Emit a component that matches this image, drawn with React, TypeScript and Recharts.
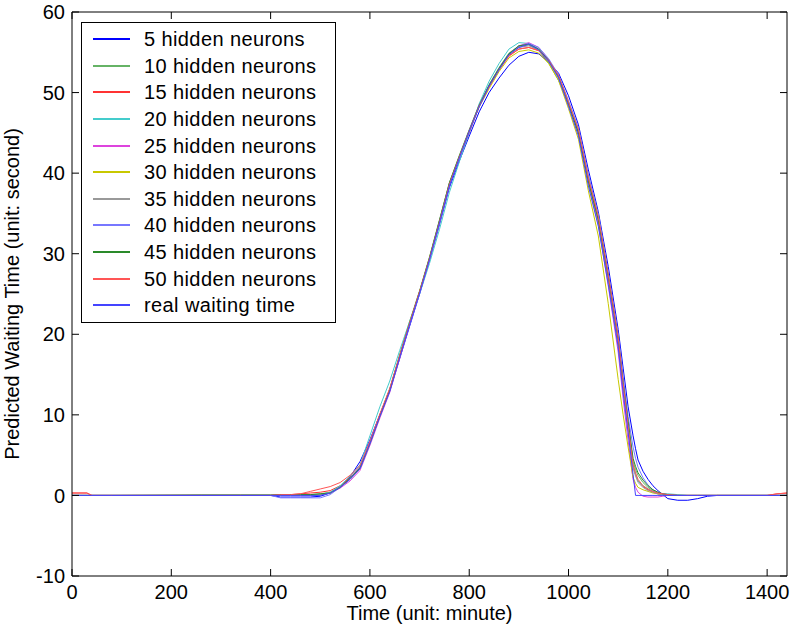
import { LineChart, Line, XAxis, YAxis, Legend } from "recharts";

// minutes of the day (denser where the curves move)
const times = [
  0, 30, 40, 80, 260, 340, 400, 420, 440, 460,
  480, 500, 520, 540, 560, 580, 600, 620, 640, 660,
  680, 700, 720, 740, 760, 780, 800, 820, 840, 860,
  880, 900, 920, 940, 960, 980, 1000, 1020, 1040, 1060,
  1080, 1100, 1110, 1120, 1130, 1135, 1140, 1150, 1160, 1170,
  1180, 1190, 1200, 1220, 1240, 1260, 1280, 1300, 1400, 1420, 1440,
];

const n5 = [
  0, 0, 0, 0, 0, 0, 0, -0.2, -0.2, -0.2,
  -0.2, -0.1, 0.3, 1.1, 2.3, 4.2, 6.9, 10.0, 13.0, 17.0,
  21.0, 25.0, 29.2, 33.6, 38.2, 41.5, 44.6, 47.6, 50.0, 51.8,
  53.4, 54.5, 55.0, 54.8, 53.8, 52.4, 49.6, 46.0, 40.4, 35.2,
  28.4, 20.6, 15.8, 11.0, 7.4, 5.8, 4.4, 3.0, 2.0, 1.2,
  0.6, 0.1, -0.4, -0.6, -0.6, -0.4, -0.1, 0, 0, 0, 0,
];
const n10 = [
  0, 0, 0, 0, 0.1, 0.1, 0.1, 0.1, 0.1, 0.1,
  0.1, 0.2, 0.4, 1.1, 2.1, 3.4, 6.6, 10.0, 13.2, 17.5,
  21.6, 25.4, 29.6, 34.2, 38.8, 42.2, 45.4, 48.5, 51.0, 53.1,
  54.9, 55.8, 55.9, 55.2, 53.7, 51.5, 48.6, 45.3, 39.4, 34.6,
  27.2, 19.0, 13.8, 8.9, 4.2, 3.2, 2.5, 1.6, 1.0, 0.6,
  0.3, 0.2, 0.1, 0, 0, 0, 0, 0, 0, 0, 0,
];
const n15 = [
  0.3, 0.3, 0, 0, 0, 0, 0, 0.1, 0.1, 0.2,
  0.3, 0.4, 0.6, 1.2, 2.2, 3.5, 6.5, 9.8, 13.0, 17.2,
  21.3, 25.2, 29.3, 33.9, 38.5, 41.9, 45.0, 48.3, 50.7, 52.9,
  54.6, 55.4, 55.6, 55.2, 53.9, 51.9, 48.6, 45.2, 39.2, 34.4,
  27.0, 19.2, 13.6, 8.4, 3.6, 2.6, 1.8, 1.1, 0.7, 0.4,
  0.2, 0.1, 0, 0, 0, 0, 0, 0, 0, 0.2, 0.3,
];
const n20 = [
  0, 0, 0, 0, 0, 0, 0, 0, 0, 0,
  0, 0.1, 0.4, 1.2, 2.4, 3.8, 7.4, 11.0, 14.2, 18.0,
  21.6, 25.0, 28.8, 33.0, 37.6, 41.4, 45.0, 48.6, 51.4, 53.6,
  55.4, 56.2, 56.1, 55.4, 54.0, 52.0, 48.8, 45.4, 39.6, 34.8,
  27.4, 19.6, 14.2, 9.0, 3.8, 2.6, 1.8, 1.2, 0.8, 0.5,
  0.3, 0.2, 0.2, 0.1, 0, 0, 0, 0, 0, 0, 0,
];
const n25 = [
  0, 0, 0, 0, 0, 0, 0, 0, 0.1, 0.1,
  0.1, 0.1, 0.3, 0.9, 1.8, 3.1, 6.2, 9.6, 12.8, 17.0,
  21.2, 25.2, 29.4, 34.0, 38.7, 42.0, 45.3, 48.4, 50.9, 53.0,
  54.8, 55.8, 56.2, 55.6, 54.1, 51.9, 48.4, 44.8, 38.8, 33.6,
  26.0, 17.8, 12.0, 6.8, 2.0, 1.0, 0.4, -0.1, -0.2, -0.2,
  -0.2, -0.1, 0, 0, 0, 0, 0, 0, 0, 0, 0,
];
const n30 = [
  0, 0, 0, 0, 0, 0, 0, 0, 0, 0,
  0, 0.1, 0.3, 1.0, 2.1, 3.4, 6.5, 9.9, 13.1, 17.3,
  21.4, 25.3, 29.5, 34.0, 38.6, 42.0, 45.2, 48.2, 50.5, 52.6,
  54.3, 55.1, 55.3, 54.9, 53.6, 51.5, 48.0, 44.2, 37.8, 32.2,
  23.8, 14.4, 10.0, 6.0, 2.2, 1.5, 1.0, 0.7, 0.5, 0.3,
  0.2, 0.1, 0, 0, 0, 0, 0, 0, 0, 0, 0,
];
const n35 = [
  0, 0, 0, 0, 0, 0, 0, 0.1, 0.1, 0.1,
  0.1, 0.1, 0.3, 1.0, 2.0, 3.3, 6.4, 9.8, 13.0, 17.2,
  21.3, 25.2, 29.4, 34.0, 38.6, 41.9, 45.2, 48.3, 50.8, 52.9,
  54.7, 55.6, 55.8, 55.3, 53.9, 51.8, 48.4, 44.9, 38.9, 33.9,
  26.6, 18.8, 13.2, 8.3, 3.4, 2.4, 1.6, 1.0, 0.6, 0.4,
  0.2, 0.1, 0, 0, 0, 0, 0, 0, 0, 0, 0,
];
const n40 = [
  0, 0, 0, 0, 0, 0, 0, -0.3, -0.3, -0.3,
  -0.3, -0.3, 0.1, 1.0, 2.1, 3.6, 6.8, 10.0, 13.2, 17.3,
  21.2, 25.0, 29.2, 33.7, 38.4, 41.8, 45.1, 48.4, 50.9, 53.0,
  54.8, 55.7, 56.1, 55.6, 54.2, 52.2, 49.0, 45.6, 39.8, 34.8,
  27.6, 20.0, 14.8, 9.8, 6.0, 4.6, 3.5, 2.2, 1.3, 0.7,
  0.4, 0.2, 0.1, 0, 0, 0, 0, 0, 0, 0, 0,
];
const n45 = [
  0, 0, 0, 0, 0, 0, 0, 0.1, 0.1, 0.1,
  0.1, 0.2, 0.3, 1.0, 2.1, 3.4, 6.5, 9.9, 13.1, 17.3,
  21.4, 25.3, 29.5, 34.1, 38.8, 42.1, 45.3, 48.4, 50.9, 53.0,
  54.8, 55.8, 56.0, 55.4, 54.0, 52.0, 48.6, 45.0, 39.0, 34.2,
  27.2, 19.4, 14.0, 9.2, 4.6, 3.6, 2.8, 1.9, 1.2, 0.7,
  0.4, 0.2, 0.1, 0, 0, 0, 0, 0, 0, 0, 0,
];
const n50 = [
  0.3, 0.3, 0, 0, 0, 0, 0, 0.1, 0.1, 0.2,
  0.5, 0.8, 1.1, 1.6, 2.5, 3.7, 6.7, 10.1, 13.3, 17.4,
  21.4, 25.3, 29.4, 33.9, 38.6, 42.0, 45.2, 48.3, 50.7, 52.8,
  54.5, 55.4, 55.6, 55.2, 54.0, 52.1, 48.8, 45.4, 39.4, 34.6,
  27.4, 19.6, 13.9, 8.6, 3.8, 2.8, 2.0, 1.2, 0.8, 0.5,
  0.3, 0.2, 0.1, 0, 0, 0, 0, 0, 0, 0.2, 0.3,
];
const real = [
  0, 0, 0, 0, 0, 0, 0, 0, 0, 0,
  0, 0, 0.3, 1.0, 2.0, 3.3, 6.4, 9.8, 12.9, 17.1,
  21.2, 25.1, 29.3, 33.8, 38.4, 41.9, 45.2, 48.2, 50.8, 52.8,
  54.7, 55.6, 56.0, 55.3, 53.9, 51.8, 48.3, 44.6, 38.4, 33.4,
  26.2, 18.4, 12.7, 7.8, 2.6, 0, 0, 0, 0, 0,
  0, 0, 0, 0, 0, 0, 0, 0, 0, 0, 0,
];

const xTicks = [0, 200, 400, 600, 800, 1000, 1200, 1400];
const yTicks = [-10, 0, 10, 20, 30, 40, 50, 60];

const series = [
  { key: "n5", name: "5 hidden neurons", color: "#0000ff", values: n5 },
  { key: "n10", name: "10 hidden neurons", color: "#66b366", values: n10 },
  { key: "n15", name: "15 hidden neurons", color: "#ff3333", values: n15 },
  { key: "n20", name: "20 hidden neurons", color: "#44cccc", values: n20 },
  { key: "n25", name: "25 hidden neurons", color: "#dd44dd", values: n25 },
  { key: "n30", name: "30 hidden neurons", color: "#c8c800", values: n30 },
  { key: "n35", name: "35 hidden neurons", color: "#999999", values: n35 },
  { key: "n40", name: "40 hidden neurons", color: "#7777ff", values: n40 },
  { key: "n45", name: "45 hidden neurons", color: "#2a8a2a", values: n45 },
  { key: "n50", name: "50 hidden neurons", color: "#ff5555", values: n50 },
  { key: "real", name: "real waiting time", color: "#4444ff", values: real },
];

const rows = times.map((t, i) => {
  const r: Record<string, number> = { t };
  series.forEach((s) => (r[s.key] = s.values[i]));
  return r;
});

const FONT = '"Liberation Sans", Arial, Helvetica, sans-serif';

// tick marks only, no label (used by the inward-facing frame axes)
const NoLabel = () => null;

// legend box drawn in series order (not the default sort by name)
function LegendBox() {
  return (
    <div
      style={{
        border: "1px solid #000",
        background: "#fff",
        padding: "3px 0",
        boxSizing: "border-box",
        width: 255,
      }}
    >
      {series.map((s) => (
        <div key={s.key} style={{ display: "flex", alignItems: "center", height: 26.6 }}>
          <span style={{ width: 37, height: 2, background: s.color, marginLeft: 11, marginRight: 14 }} />
          <span style={{ fontSize: 20, lineHeight: "20px", color: "#000", letterSpacing: 0.4 }}>{s.name}</span>
        </div>
      ))}
    </div>
  );
}

export default function App() {
  return (
    <div style={{ width: 790, height: 634, background: "#fff" }}>
      <style>{"body{margin:0}"}</style>
      <LineChart
        width={790}
        height={634}
        data={rows}
        margin={{ top: 12, right: 3, bottom: 0, left: 0 }}
        style={{ fontFamily: FONT }}
      >
        <XAxis
          dataKey="t"
          type="number"
          domain={[0, 1440]}
          ticks={xTicks}
          allowDataOverflow
          height={58}
          stroke="#000"
          tickLine={false}
          tickSize={0}
          tickMargin={9}
          tick={{ fill: "#000", fontSize: 20 }}
          label={({ viewBox }: any) => (
            <text x={viewBox.x + viewBox.width / 2} y={viewBox.y + 44} textAnchor="middle" fontSize={20} fill="#000">
              Time (unit: minute)
            </text>
          )}
        />
        <XAxis
          xAxisId="bin"
          dataKey="t"
          type="number"
          domain={[0, 1440]}
          ticks={xTicks}
          allowDataOverflow
          orientation="bottom"
          mirror
          tick={NoLabel}
          tickSize={7}
          axisLine={false}
          stroke="#000"
        />
        <XAxis
          xAxisId="top"
          dataKey="t"
          type="number"
          domain={[0, 1440]}
          ticks={xTicks}
          allowDataOverflow
          orientation="top"
          mirror
          tick={NoLabel}
          tickSize={7}
          stroke="#000"
        />
        <YAxis
          type="number"
          domain={[-10, 60]}
          ticks={yTicks}
          allowDataOverflow
          width={72}
          stroke="#000"
          tickLine={false}
          tickSize={0}
          tickMargin={7}
          tick={{ fill: "#000", fontSize: 20 }}
          label={({ viewBox }: any) => {
            const cx = viewBox.x + 19;
            const cy = viewBox.y + viewBox.height / 2;
            return (
              <text x={cx} y={cy} transform={`rotate(-90 ${cx} ${cy})`} textAnchor="middle" fontSize={20} fill="#000">
                Predicted Waiting Time (unit: second)
              </text>
            );
          }}
        />
        <YAxis
          yAxisId="lin"
          type="number"
          domain={[-10, 60]}
          ticks={yTicks}
          allowDataOverflow
          orientation="left"
          mirror
          tick={NoLabel}
          tickSize={7}
          axisLine={false}
          stroke="#000"
        />
        <YAxis
          yAxisId="right"
          type="number"
          domain={[-10, 60]}
          ticks={yTicks}
          allowDataOverflow
          orientation="right"
          mirror
          tick={NoLabel}
          tickSize={7}
          stroke="#000"
        />
        <Legend
          layout="horizontal"
          verticalAlign="middle"
          align="center"
          content={<LegendBox />}
          wrapperStyle={{ left: 81, top: 22, width: 255 }}
        />
        {series.map((s) => (
          <Line
            key={s.key}
            type="linear"
            dataKey={s.key}
            name={s.name}
            stroke={s.color}
            strokeWidth={1}
            dot={false}
            isAnimationActive={false}
          />
        ))}
      </LineChart>
    </div>
  );
}
